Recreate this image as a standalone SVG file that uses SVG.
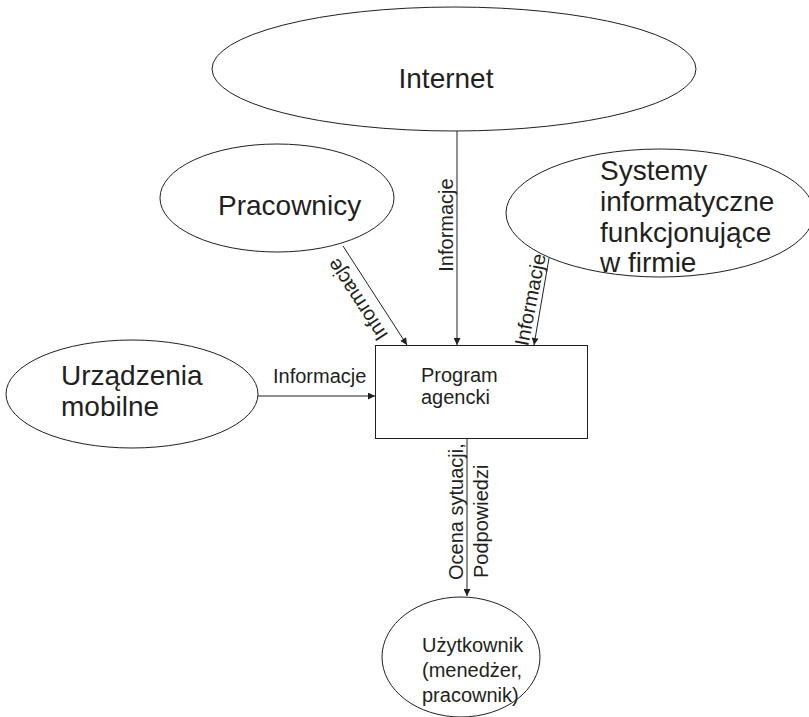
<svg xmlns="http://www.w3.org/2000/svg" width="809" height="717" viewBox="0 0 809 717">
  <style>
    .shape { fill: #ffffff; stroke: #231f20; stroke-width: 1; }
    .big { font-family: "Liberation Sans", Arial, sans-serif; font-size: 28px; fill: #231f20; }
    .small { font-family: "Liberation Sans", Arial, sans-serif; font-size: 20px; fill: #231f20; }
    .link { stroke: #231f20; stroke-width: 1; fill: none; marker-end: url(#arrow); }
  </style>
  <defs>
    <marker id="arrow" viewBox="0 0 10 10" refX="10" refY="5" markerWidth="9" markerHeight="7" markerUnits="userSpaceOnUse" orient="auto">
      <path d="M0,0 L10,5 L0,10 Z" fill="#231f20"/>
    </marker>
  </defs>
  <rect width="809" height="717" fill="#ffffff"/>

  <!-- connectors with their labels -->
  <g id="connectors">
    <line class="link" x1="457" y1="131" x2="457" y2="345"/>
    <line class="link" x1="343" y1="246" x2="407" y2="345"/>
    <line class="link" x1="549" y1="258" x2="534" y2="345"/>
    <line class="link" x1="258" y1="396" x2="375" y2="396"/>
    <line class="link" x1="467" y1="438" x2="467" y2="596"/>

    <text class="small" transform="translate(453,225) rotate(-90)" text-anchor="middle">Informacje</text>
    <text class="small" transform="translate(363,296) rotate(-123.3)" text-anchor="middle">Informacje</text>
    <text class="small" transform="translate(537,301) rotate(-79)" text-anchor="middle">Informacje</text>
    <text class="small" x="273" y="383">Informacje</text>
    <text class="small" transform="translate(463,580) rotate(-90)">Ocena sytuacji,</text>
    <text class="small" transform="translate(488,578) rotate(-90)">Podpowiedzi</text>
  </g>

  <g id="internet">
    <ellipse class="shape" cx="454" cy="69" rx="242" ry="62"/>
    <text class="big" x="446" y="88" text-anchor="middle">Internet</text>
  </g>

  <g id="pracownicy">
    <ellipse class="shape" cx="277" cy="198" rx="117" ry="54"/>
    <text class="big" x="218" y="215">Pracownicy</text>
  </g>

  <g id="systemy">
    <ellipse class="shape" cx="660" cy="213" rx="154" ry="64"/>
    <text class="big" x="600" y="180">Systemy</text>
    <text class="big" x="600" y="211">informatyczne</text>
    <text class="big" x="600" y="242">funkcjonujące</text>
    <text class="big" x="600" y="272">w firmie</text>
  </g>

  <g id="urzadzenia">
    <ellipse class="shape" cx="132" cy="394" rx="126" ry="54"/>
    <text class="big" x="61" y="385">Urządzenia</text>
    <text class="big" x="61" y="416">mobilne</text>
  </g>

  <g id="program">
    <rect class="shape" x="375.5" y="345.5" width="212" height="93"/>
    <text class="small" x="421" y="382">Program</text>
    <text class="small" x="421" y="404">agencki</text>
  </g>

  <g id="uzytkownik">
    <ellipse class="shape" cx="461" cy="657" rx="79" ry="60"/>
    <text class="small" x="422" y="652">Użytkownik</text>
    <text class="small" x="422" y="677">(menedżer,</text>
    <text class="small" x="422" y="702">pracownik)</text>
  </g>
</svg>
